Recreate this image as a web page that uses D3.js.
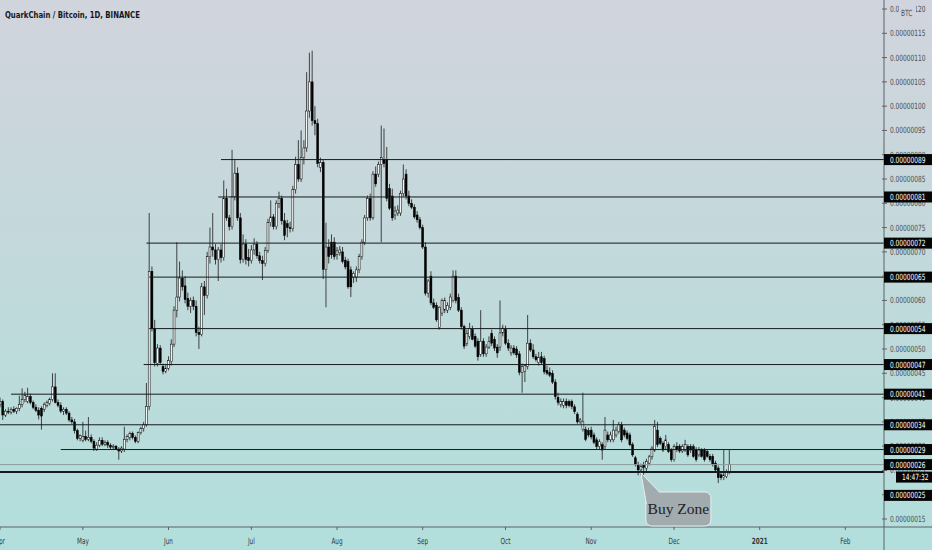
<!DOCTYPE html>
<html>
<head>
<meta charset="utf-8">
<script src="https://cdn.jsdelivr.net/npm/d3@7"></script>
<style>
html, body { margin: 0; padding: 0; overflow: hidden; background: #c2dadb; }
svg { display: block; }
</style>
</head>
<body>
<svg width="932" height="550"></svg>
<script>
const title = "QuarkChain / Bitcoin, 1D, BINANCE";
const firstDay = "2020-04-01";
const lastAxisDay = "2021-02-15";

// daily candles in satoshi: [open, high, low, close]
const ohlc = [
  [38.5,40.0,38.0,39.2],[39.2,39.6,35.4,36.4],[36.4,37.6,36.0,37.2],[37.2,38.0,36.6,37.0],[37.0,38.0,36.5,37.6],
  [37.6,38.2,36.8,37.2],[37.2,38.0,36.6,37.8],[37.8,40.4,37.2,38.6],[38.6,41.9,38.0,39.6],[39.6,41.2,39.0,40.4],
  [39.2,42.0,38.8,40.2],[40.2,40.8,38.6,39.0],[39.0,39.4,37.6,38.0],[38.0,38.6,37.0,37.4],[37.4,38.0,35.5,36.4],
  [37.8,38.2,33.4,36.2],[37.6,39.0,37.0,38.6],[38.4,39.4,38.0,39.0],[38.8,40.0,38.4,39.6],[39.6,45.0,39.2,42.2],
  [42.2,45.0,38.8,39.0],[39.0,39.6,38.0,38.4],[38.4,39.0,36.8,37.2],[37.2,38.0,36.4,37.6],[37.6,38.0,36.4,36.8],
  [36.8,37.2,35.0,35.4],[35.4,36.0,34.6,35.0],[35.0,35.6,32.6,33.2],[33.2,33.6,31.2,31.6],[31.6,32.4,31.0,32.2],
  [31.2,35.0,30.8,32.0],[32.0,33.2,31.0,31.4],[31.4,36.0,31.0,31.8],[31.8,32.4,30.6,31.0],[31.0,31.4,29.0,29.6],
  [29.4,30.8,29.0,30.2],[30.2,31.8,29.8,31.2],[31.2,31.8,30.0,30.4],[30.4,31.2,30.0,30.8],[30.8,31.2,29.6,30.2],
  [30.2,30.6,29.4,29.8],[29.8,30.4,29.2,30.0],[30.0,30.2,29.2,29.4],[29.4,29.8,27.2,29.0],[29.0,30.0,28.6,29.6],
  [29.4,34.0,28.8,31.4],[31.4,32.4,30.8,32.0],[31.8,33.0,31.2,32.6],[32.6,33.0,31.4,31.8],[31.8,32.2,30.6,31.0],
  [31.0,33.0,30.6,32.8],[32.8,34.0,32.4,33.6],[33.6,35.0,33.0,34.4],[34.4,43.0,34.0,38.2],[38.2,78.0,37.4,66.0],
  [66.0,67.0,53.6,54.2],[54.2,56.0,46.4,47.2],[47.0,51.0,46.4,50.2],[50.2,50.8,46.8,47.2],[46.4,47.0,44.8,45.4],
  [45.4,46.8,45.0,46.0],[46.0,48.5,45.6,47.6],[47.4,52.0,46.6,51.0],[51.0,58.8,50.4,58.0],[58.0,72.0,56.5,60.7],
  [60.7,68.0,59.8,64.6],[64.6,66.2,62.0,62.8],[63.0,65.0,59.4,60.2],[60.4,61.6,58.0,58.8],[58.8,60.6,57.4,60.0],
  [60.0,60.8,58.0,58.8],[58.8,60.0,52.6,53.4],[53.4,54.6,50.0,53.0],[53.0,63.6,52.6,62.8],[62.8,64.0,57.0,61.0],
  [61.0,70.0,60.4,69.0],[69.0,75.0,67.6,71.0],[71.0,78.0,69.0,70.4],[70.4,71.6,67.4,68.4],[68.4,71.0,64.0,70.4],
  [70.4,71.6,67.8,68.8],[68.8,84.7,68.2,81.0],[81.0,83.0,76.4,77.0],[77.0,77.6,74.4,75.2],[75.2,91.0,74.6,81.4],
  [81.4,89.0,80.6,86.2],[86.2,87.4,76.4,77.0],[77.0,78.0,67.6,68.4],[68.4,73.6,67.8,71.6],[71.6,72.6,67.4,68.4],
  [68.8,70.6,67.0,68.2],[68.2,71.4,67.6,70.4],[70.4,72.8,69.4,71.6],[71.6,72.2,68.6,69.2],[69.2,70.0,67.6,68.2],
  [68.2,69.2,64.2,67.6],[67.6,71.0,67.0,70.3],[70.3,76.8,69.8,76.0],[76.0,80.6,75.2,77.2],[77.2,77.8,74.6,75.2],
  [75.2,80.6,74.6,80.0],[80.0,82.4,79.0,81.0],[81.0,81.6,75.6,76.4],[76.4,78.0,72.4,73.4],[75.8,76.6,73.0,75.0],
  [75.0,76.2,74.0,74.8],[74.8,83.6,74.2,82.8],[82.8,89.6,82.0,88.0],[88.0,93.0,84.4,85.0],[85.0,95.0,84.4,89.4],
  [89.4,93.0,88.0,91.4],[91.4,107.0,90.6,99.0],[99.0,111.0,97.6,105.0],[105.0,111.4,96.0,97.0],[97.0,100.0,94.0,96.4],
  [96.4,97.4,87.4,88.2],[87.4,89.4,86.4,88.4],[88.4,89.0,64.4,66.4],[66.4,76.0,58.6,71.0],[71.0,72.6,67.6,69.0],
  [72.0,73.6,68.6,69.4],[72.0,73.0,68.4,69.0],[69.4,71.0,68.4,70.2],[69.8,71.2,69.2,70.4],[70.0,71.0,67.6,68.0],
  [68.3,69.0,66.4,66.9],[68.0,68.6,62.4,62.8],[66.3,67.0,60.7,62.8],[64.8,66.0,63.6,65.6],[64.8,67.0,63.8,66.3],
  [66.3,69.6,65.6,69.0],[69.0,72.6,68.4,72.0],[72.0,77.6,71.4,77.0],[77.0,81.6,76.4,81.0],[81.0,82.0,76.4,77.0],
  [77.0,86.6,76.6,86.0],[86.0,87.6,83.4,84.0],[86.0,88.6,85.4,88.0],[88.0,96.0,72.0,89.4],[89.0,95.4,87.4,88.2],
  [89.0,91.6,80.4,81.0],[83.0,84.0,78.6,79.0],[81.5,83.0,76.4,77.0],[77.6,79.4,76.6,78.4],[78.0,79.6,77.4,78.6],
  [78.0,82.6,77.4,82.0],[82.0,88.0,81.4,85.0],[86.0,87.0,80.8,81.5],[81.5,82.6,79.4,80.0],[80.0,80.8,78.8,79.2],
  [79.2,79.8,76.8,77.2],[77.6,78.4,76.0,76.6],[76.6,77.2,74.6,75.0],[75.0,75.6,70.6,71.0],[71.0,72.0,61.0,61.5],
  [61.5,64.4,60.6,64.0],[65.0,66.0,59.0,59.5],[59.5,60.4,58.2,58.6],[59.0,59.6,55.6,56.0],[54.4,58.8,54.0,58.6],
  [57.4,60.4,56.8,60.0],[58.0,60.6,57.4,60.0],[58.0,59.6,57.4,59.0],[58.6,61.4,58.0,60.7],[60.0,66.2,59.6,65.0],
  [65.0,66.2,59.4,60.0],[60.6,61.4,57.6,58.0],[58.0,58.6,54.0,54.6],[54.6,55.0,50.0,50.6],[51.2,54.0,50.6,53.2],
  [52.6,55.4,52.0,54.2],[54.0,54.8,51.8,52.0],[52.6,53.2,50.2,50.6],[51.6,52.2,47.6,48.4],[48.9,58.0,48.4,51.6],
  [51.6,52.2,48.4,49.0],[49.0,51.0,48.4,50.4],[50.4,52.6,50.0,51.6],[53.2,54.0,50.6,51.2],[52.0,52.6,49.6,50.2],
  [50.4,51.0,48.2,49.2],[50.4,60.0,49.6,53.3],[53.3,55.0,52.6,54.3],[54.0,54.8,50.8,51.2],[51.2,52.0,49.6,50.2],
  [49.2,50.8,48.6,50.2],[50.2,50.8,48.8,49.2],[50.0,50.6,48.2,48.8],[49.0,49.6,44.6,45.2],[45.2,47.0,41.0,46.4],
  [45.4,46.8,43.2,46.6],[46.4,57.0,45.8,51.2],[51.2,52.0,49.4,49.8],[49.8,51.0,48.0,48.4],[48.4,49.0,47.4,47.8],
  [47.2,49.4,46.6,48.2],[48.4,49.4,46.8,47.2],[48.0,48.6,44.8,45.3],[45.6,46.6,44.6,45.0],[45.2,46.2,44.2,44.6],
  [45.0,45.6,42.8,43.2],[43.2,43.8,39.6,40.2],[40.0,41.0,38.4,39.0],[38.6,39.8,38.0,39.2],[38.4,39.8,37.8,39.2],
  [39.2,39.8,37.8,38.4],[39.2,39.6,38.0,38.4],[39.2,39.6,37.6,38.2],[38.1,38.6,36.6,37.1],[36.6,37.0,34.6,35.0],
  [35.0,35.8,34.6,35.4],[33.4,41.0,33.0,35.0],[33.4,34.0,31.0,31.4],[33.2,33.8,31.8,32.3],[33.3,34.0,31.4,31.9],
  [32.3,32.8,30.4,30.8],[31.3,31.8,29.4,29.9],[29.9,31.4,29.4,30.9],[30.3,30.8,27.2,29.2],[29.9,36.0,29.4,33.3],
  [32.3,33.0,30.8,31.3],[31.3,33.0,30.8,32.3],[31.3,35.4,30.8,33.3],[32.3,34.0,31.8,33.3],[33.0,35.0,32.6,34.4],
  [34.4,35.0,30.8,31.3],[33.3,33.8,31.8,32.3],[32.7,33.2,31.2,31.6],[32.3,32.8,30.0,30.3],[30.3,30.8,27.8,28.2],
  [27.6,28.0,25.8,26.2],[26.2,26.8,24.0,25.1],[25.1,26.4,24.0,25.8],[26.2,26.8,24.1,25.6],[25.4,27.4,24.8,26.8],
  [26.5,28.2,26.0,27.8],[27.8,30.0,27.2,29.6],[29.2,35.4,28.8,34.0],[33.3,35.0,29.8,30.3],[31.6,32.0,30.2,30.6],
  [30.6,31.0,28.8,29.2],[29.9,32.3,29.4,31.3],[30.3,30.8,28.6,28.9],[29.2,29.6,26.8,27.2],[27.2,30.4,26.8,29.9],
  [29.9,30.8,28.8,29.4],[30.0,30.4,28.6,29.0],[29.0,30.4,28.6,29.9],[29.2,31.3,28.8,30.3],[29.9,30.4,27.8,28.2],
  [29.9,30.4,28.6,29.2],[29.9,30.4,27.6,27.9],[29.2,29.8,26.8,27.2],[28.2,29.8,27.8,29.2],[29.2,29.6,27.6,27.9],
  [29.2,29.6,26.8,27.2],[28.9,29.4,27.6,27.9],[27.9,28.4,26.8,27.2],[27.9,28.4,25.8,26.2],[26.5,27.0,24.6,25.1],
  [25.5,26.0,22.4,23.5],[24.1,24.6,23.0,23.5],[23.5,29.2,23.0,24.1],[23.7,25.2,23.4,24.7],[24.7,29.2,24.2,26.2]
];

// horizontal levels drawn by the author (satoshi) and the day each starts
const levels = [89.0, 81.3, 71.8, 64.8, 54.2, 46.8, 40.7, 34.4, 29.3];
const levelFrom = ["2020-06-20", "2020-06-19", "2020-05-24", "2020-05-25", "2020-05-25",
                   "2020-05-23", "2020-04-05", "2020-03-25", "2020-04-23"];
const buyLevel = 24.7;
const lastPrice = 26.2;
const countdown = "14:47:32";
const priceTicks = [15, 20, 25, 30, 35, 40, 45, 50, 55, 60, 65, 70, 75, 80, 85, 90, 95, 100, 105, 110, 115, 120];
const calloutText = "Buy Zone";
const calloutDay = "2020-11-19";

const W = 932, H = 550, axisX = 884, axisY = 527;
const svg = d3.select("svg");
const narrow = "'Liberation Sans Narrow', 'Arial Narrow', 'DejaVu Sans Condensed', sans-serif";

const x = d3.scaleUtc()
  .domain([new Date(firstDay), new Date(lastAxisDay)])
  .range([0, axisX]);
const y = d3.scaleLinear().domain([15, 115]).range([519, 33.3]);
const fmt = v => (Math.round(v) / 1e8).toFixed(8);

// squeeze a text horizontally around its anchor x
const squeeze = (ax, k) => `translate(${ax * (1 - k)},0) scale(${k},1)`;

// background gradient
const defs = svg.append("defs");
const grad = defs.append("linearGradient").attr("id", "bg")
  .attr("x1", 0).attr("y1", 0).attr("x2", 0).attr("y2", 1);
grad.append("stop").attr("offset", "0%").attr("stop-color", "#d1d4dc");
grad.append("stop").attr("offset", "100%").attr("stop-color", "#b2dfdb");
svg.append("rect").attr("width", W).attr("height", H).attr("fill", "url(#bg)");
defs.append("clipPath").attr("id", "plot").append("rect")
  .attr("width", axisX).attr("height", axisY);

const plot = svg.append("g").attr("clip-path", "url(#plot)");

// candles
const start = new Date(firstDay);
const candles = ohlc.map((d, i) => ({
  date: d3.utcDay.offset(start, i), o: d[0], h: d[1], l: d[2], c: d[3]
}));
const step = x(d3.utcDay.offset(start, 1)) - x(start);
const bw = step * 0.7;

const cg = plot.append("g");
cg.selectAll("line.wick").data(candles).enter().append("line")
  .attr("class", "wick")
  .attr("x1", d => x(d.date)).attr("x2", d => x(d.date))
  .attr("y1", d => y(d.h)).attr("y2", d => y(d.l))
  .attr("stroke", "#1c1c1c").attr("stroke-width", 0.8);
cg.selectAll("rect.body").data(candles).enter().append("rect")
  .attr("class", "body")
  .attr("x", d => x(d.date) - bw / 2)
  .attr("width", bw)
  .attr("y", d => y(Math.max(d.o, d.c)))
  .attr("height", d => Math.max(0.8, Math.abs(y(d.o) - y(d.c))))
  .attr("fill", d => d.c >= d.o ? "#f4f6f6" : "#000")
  .attr("stroke", "#000").attr("stroke-width", 0.5);

// current price line
plot.append("line")
  .attr("x1", 0).attr("x2", axisX)
  .attr("y1", y(lastPrice)).attr("y2", y(lastPrice))
  .attr("stroke", "#8c9c9c").attr("stroke-width", 1);

// author levels
plot.selectAll("line.level").data(levels).enter().append("line")
  .attr("class", "level")
  .attr("x1", (d, i) => x(new Date(levelFrom[i]))).attr("x2", axisX)
  .attr("y1", d => y(d)).attr("y2", d => y(d))
  .attr("stroke", "#161a1e").attr("stroke-width", 1);
plot.append("line")
  .attr("x1", 0).attr("x2", axisX)
  .attr("y1", y(buyLevel)).attr("y2", y(buyLevel))
  .attr("stroke", "#161a1e").attr("stroke-width", 2);

// price axis
svg.append("line").attr("x1", axisX).attr("x2", axisX).attr("y1", 0).attr("y2", H)
  .attr("stroke", "#5d6366").attr("stroke-width", 1);
const ticks = svg.append("g");
ticks.selectAll("line").data(priceTicks).enter().append("line")
  .attr("x1", axisX - 2).attr("x2", axisX + 3)
  .attr("y1", d => y(d)).attr("y2", d => y(d))
  .attr("stroke", "#5d6366");
ticks.selectAll("text").data(priceTicks).enter().append("text")
  .attr("x", axisX + 6).attr("y", d => y(d)).attr("dy", "0.35em")
  .attr("font-family", narrow).attr("font-size", 8.5).attr("fill", "#4a4f55")
  .attr("transform", squeeze(axisX + 6, 0.77))
  .text(d => fmt(d));

// BTC unit over the top tick
svg.append("rect").attr("x", 899).attr("y", 5).attr("width", 17).attr("height", 13)
  .attr("fill", "#d1d4dc");
svg.append("text").attr("x", 901).attr("y", 16)
  .attr("font-family", narrow).attr("font-size", 8.5).attr("fill", "#4a4f55")
  .attr("transform", squeeze(901, 0.77)).text("BTC");

function tag(yc, text, x0) {
  svg.append("rect").attr("x", x0).attr("y", yc - 5.5).attr("width", W - x0).attr("height", 11)
    .attr("fill", "#050505");
  svg.append("text").attr("x", x0 + 6).attr("y", yc).attr("dy", "0.35em")
    .attr("font-family", narrow).attr("font-size", 8.5).attr("fill", "#fff")
    .attr("transform", squeeze(x0 + 6, 0.77)).text(text);
}
levels.forEach(v => tag(y(v), fmt(v), axisX));
tag(y(lastPrice), fmt(lastPrice), axisX);
tag(y(lastPrice) + 12.5, countdown, axisX + 12);
tag(y(buyLevel) + 23.5, fmt(buyLevel), axisX);

// time axis
svg.append("line").attr("x1", 0).attr("x2", W).attr("y1", axisY).attr("y2", axisY)
  .attr("stroke", "#5d6366").attr("stroke-width", 1);
const months = x.ticks(d3.utcMonth.every(1));
const xa = svg.append("g");
xa.selectAll("line").data(months).enter().append("line")
  .attr("x1", d => x(d)).attr("x2", d => x(d))
  .attr("y1", axisY).attr("y2", axisY + 3).attr("stroke", "#5d6366");
xa.selectAll("text").data(months).enter().append("text")
  .attr("x", d => x(d)).attr("y", 544).attr("text-anchor", "middle")
  .attr("font-family", narrow).attr("font-size", 8.5).attr("fill", "#33383d")
  .attr("font-weight", d => d.getUTCMonth() === 0 ? "bold" : "normal")
  .attr("transform", d => squeeze(x(d), 0.75))
  .text(d => d.getUTCMonth() === 0 ? d.getUTCFullYear() : d3.utcFormat("%b")(d));

// Buy Zone callout
const tipX = x(new Date(calloutDay)), tipY = y(buyLevel) + 1;
const bx = tipX + 5, by = 492, bwid = 65, bh = 34;
const callout = svg.append("g");
callout.append("rect").attr("x", bx).attr("y", by).attr("width", bwid).attr("height", bh)
  .attr("rx", 6).attr("fill", "#a2abad").attr("stroke", "#e9efef").attr("stroke-width", 1);
callout.append("path")
  .attr("d", `M${bx + 14},${by + 0.5} L${tipX},${tipY} L${bx + 0.5},${by + 12} Z`)
  .attr("fill", "#a2abad");
callout.append("path")
  .attr("d", `M${bx + 14},${by + 0.5} L${tipX},${tipY} L${bx + 0.5},${by + 12}`)
  .attr("fill", "none").attr("stroke", "#e9efef").attr("stroke-width", 1);
callout.append("text").attr("x", bx + bwid / 2).attr("y", by + 22)
  .attr("text-anchor", "middle").attr("font-family", "'Liberation Serif', 'DejaVu Serif', serif")
  .attr("font-size", 15.5).attr("fill", "#1e2226").text(calloutText);

// title
svg.append("text").attr("x", 5).attr("y", 18)
  .attr("font-family", narrow).attr("font-weight", "bold").attr("font-size", 9.5)
  .attr("fill", "#131722").attr("transform", squeeze(5, 0.81))
  .text(title);
</script>
</body>
</html>
